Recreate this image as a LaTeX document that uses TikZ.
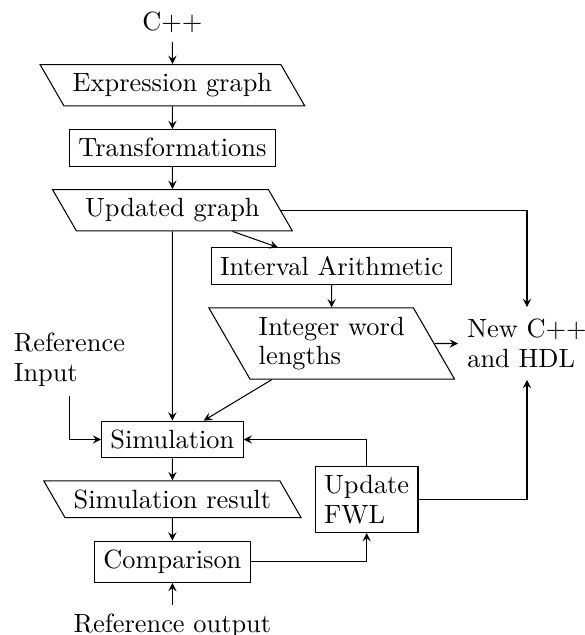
\documentclass[tikz,border=0pt]{standalone}
\usetikzlibrary{shapes.geometric,arrows}
\begin{document}
\begin{tikzpicture}[x=0.3792pt,y=-0.3792pt,>=stealth,
  box/.style={draw,rectangle},
  io/.style={draw,trapezium,trapezium left angle=120,trapezium right angle=60},
  txt/.style={align=left},
  conn/.style={->}]
\useasboundingbox (0,0) rectangle (585,635);
\node[anchor=base] (cpp) at (172.4,30.7) {C++};
\node[io] (expr) at (172.4,85.2) {Expression graph};
\node[box] (trans) at (172.4,147.8) {Transformations};
\node[io] (upd) at (172.4,210.2) {Updated graph};
\node[box] (ia) at (331.6,266.3) {Interval Arithmetic};
\node[io,align=left] (iwl) at (331.7,343.5) {Integer word\\[-0.7pt]lengths};
\node[txt,minimum height=27.2pt] (new) at (527,343.5) {New C++\\[-0.7pt]and HDL};
\node[txt] (refin) at (69.5,360) {Reference\\[-0.7pt]Input};
\node[box] (sim) at (172.4,439.5) {Simulation};
\node[io] (simres) at (172.4,499.2) {Simulation result};
\node[box] (comp) at (172.4,561.8) {Comparison};
\node[box,align=left] (fwl) at (366.7,499.3) {Update\\[-0.7pt]FWL};
\node[anchor=north] (refout) at (172.4,605) {Reference output};
\draw[conn] (cpp) -- (expr);
\draw[conn] (expr) -- (trans);
\draw[conn] (trans) -- (upd);
\draw[conn] (upd) -- (ia);
\draw[conn] (upd) -- (sim);
\draw[conn] (ia) -- (iwl);
\draw[conn] (iwl) -- (sim);
\draw[conn] (iwl) -- (new);
\draw[conn] (upd) -| (new);
\draw[conn] (refin) |- (sim);
\draw[conn] (sim) -- (simres);
\draw[conn] (simres) -- (comp);
\draw[conn] (refout) -- (comp);
\draw[conn] (comp) -| (fwl);
\draw[conn] (fwl) |- (sim);
\draw[conn] (fwl) -| (new);
\end{tikzpicture}
\end{document}
